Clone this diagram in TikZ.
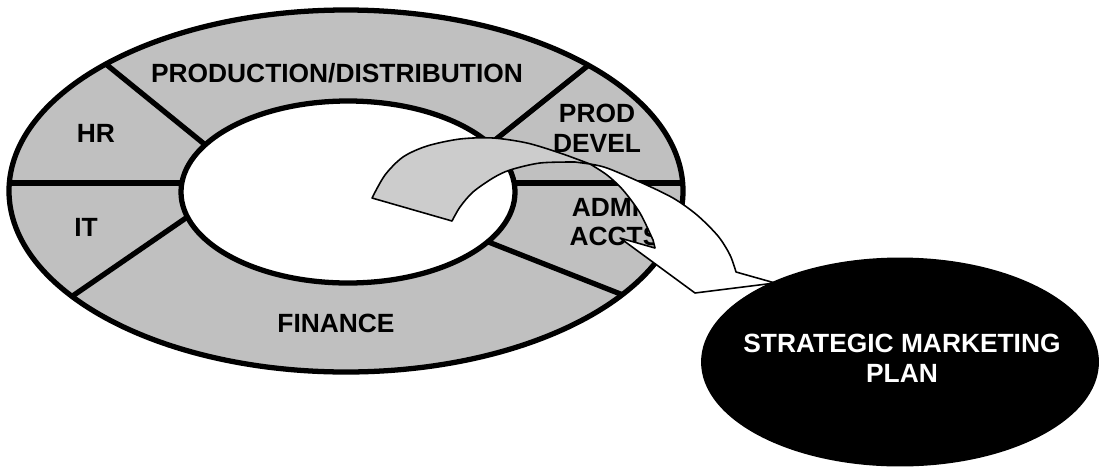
\documentclass[tikz,border=0pt]{standalone}
\usepackage{fontspec}
\setmainfont{Liberation Sans}
\usetikzlibrary{shapes.geometric}
\definecolor{ringgray}{RGB}{192,192,192}
\definecolor{curlgray}{RGB}{204,204,204}
\begin{document}
\begin{tikzpicture}[x=0.02cm, y=-0.02cm,
        lbl/.style={font=\fontsize{15pt}{17pt}\selectfont\bfseries, align=center, inner sep=0pt},
        rim/.style={line width=3pt},
        divider/.style={line width=3pt, shorten <=-8pt, shorten >=-8pt},
        ribbon/.style={line width=0.9pt, line join=round},
        blob/.style={ellipse, fill=black, inner sep=0pt, minimum width=7.96cm, minimum height=4.18cm}]
    \useasboundingbox (0,0) rectangle (1099,467);

    \coordinate (C) at (346,191);
    \coordinate (c) at (348,192);
    \coordinate (o1) at (107,65);  \coordinate (i1) at (203,143);
    \coordinate (o2) at (585,68);  \coordinate (i2) at (495,140);
    \coordinate (o3) at (74,295);  \coordinate (i3) at (183,220);
    \coordinate (o4) at (623,295); \coordinate (i4) at (491,243);
    \coordinate (o5) at (9,183);   \coordinate (i5) at (182,183);
    \coordinate (o6) at (684,183); \coordinate (i6) at (514,183);

    \fill[ringgray] (C) ellipse (337 and 181);
    \begin{scope}
        \clip (C) ellipse (337 and 181);
        \foreach \k in {1,...,6}
            \draw[divider] (o\k) -- (i\k);
    \end{scope}
    \fill[white] (c) ellipse (167 and 91);
    \draw[rim] (C) ellipse (337 and 181);
    \draw[rim] (c) ellipse (167 and 91);

    \node[lbl] (PD) at (337,73) {PRODUCTION/DISTRIBUTION};
    \node[lbl] (HR) at (96,133) {HR};
    \node[lbl] (PDV) at (597,128) {PROD\\DEVEL};
    \node[lbl] (IT) at (86,227) {IT};
    \node[lbl] (AA) at (615,222) {ADMIN\\ACCTS};
    \node[lbl] (FIN) at (336,323) {FINANCE};

    \filldraw[ribbon, fill=curlgray]
        plot[smooth] coordinates {(372,198) (385,175) (403,157) (427,146) (460,139) (493,138) (527,143) (560,153) (590,164)}
        -- plot[smooth] coordinates {(575,162) (540,163) (510,170) (493,178) (473,192) (460,207) (452,221)}
        -- cycle;
    \filldraw[ribbon, fill=white]
        plot[smooth] coordinates {(590,164) (607,168) (640,182) (673,198) (697,215) (718,236) (730,255) (736,272)}
        -- (775,283) -- (695,293) -- (620,238) -- (655,248)
        -- plot[smooth] coordinates {(653,240) (640,213) (623,190) (607,175) (590,164)}
        -- cycle;

    \node[blob] (SMP) at (900,362) {};
    \node[lbl, text=white] (SMPtext) at (902,358) {STRATEGIC MARKETING\\PLAN};
\end{tikzpicture}
\end{document}
